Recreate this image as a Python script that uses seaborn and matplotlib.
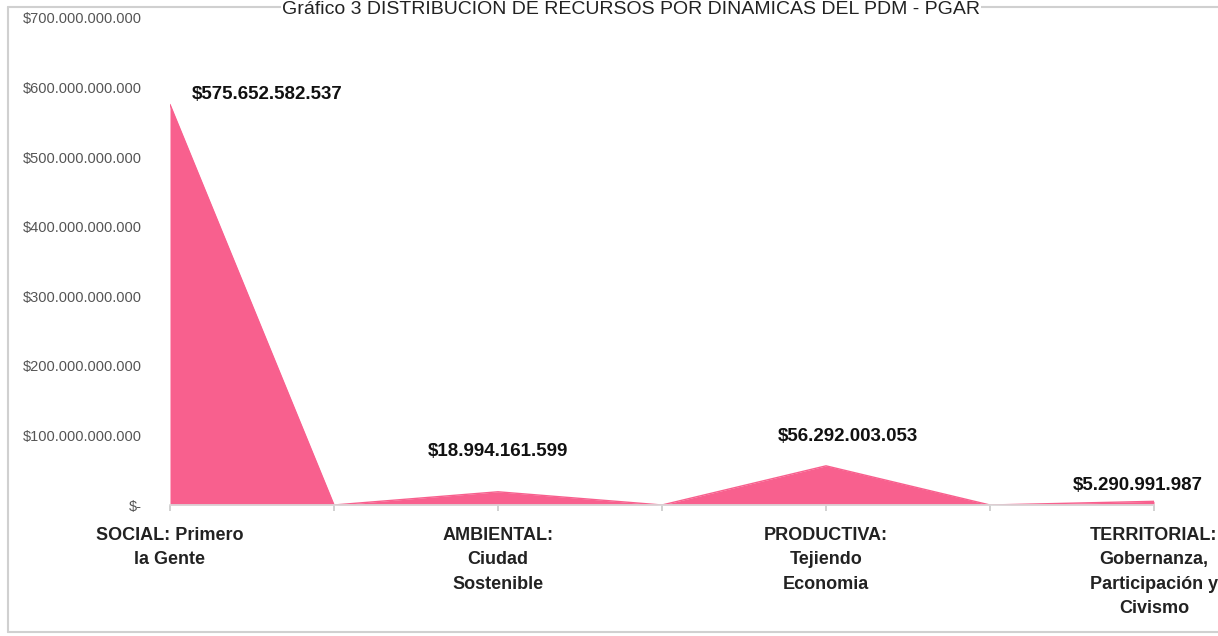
import matplotlib
matplotlib.use("Agg")
import matplotlib.pyplot as plt
from matplotlib.lines import Line2D
import seaborn as sns
import pandas as pd

# Data (every other point is the zero "gap" between dynamics)
categories = ["SOCIAL: Primero\nla Gente", "", "AMBIENTAL:\nCiudad\nSostenible", "",
              "PRODUCTIVA:\nTejiendo\nEconomia", "", "TERRITORIAL:\nGobernanza,\nParticipación y\nCivismo"]
values = [575652582537, 0, 18994161599, 0, 56292003053, 0, 5290991987]
y_ticks = [0, 100e9, 200e9, 300e9, 400e9, 500e9, 600e9, 700e9]

title = "Gráfico 3 DISTRIBUCIÓN DE RECURSOS POR DINÁMICAS DEL PDM - PGAR"

PINK = "#F8608E"
W, H = 1218, 636

def money(v):
    if v == 0:
        return "$-"
    return "$" + f"{v:,.0f}".replace(",", ".")

df = pd.DataFrame({"pos": range(len(values)), "value": values})

sns.set_theme(style="white")
plt.rcParams["font.family"] = ["Liberation Sans Narrow", "Liberation Sans", "DejaVu Sans"]

fig = plt.figure(figsize=(W / 100, H / 100), dpi=100)

# chart frame (left, top and bottom edges; right side runs off the picture)
frame = dict(color="#d0d0d0", linewidth=1.5, transform=fig.transFigure)
fig.lines.append(Line2D([8 / W, 8 / W], [1 - 7 / H, 1 - 632 / H], **frame))
fig.lines.append(Line2D([8 / W, 1], [1 - 7 / H, 1 - 7 / H], **frame))
fig.lines.append(Line2D([8 / W, 1], [1 - 632 / H, 1 - 632 / H], **frame))

ax = fig.add_axes([170 / W, 1 - 505 / H, (1154 - 170) / W, (505 - 18) / H])

sns.lineplot(data=df, x="pos", y="value", color=PINK, linewidth=1, ax=ax)
ax.fill_between(df["pos"], df["value"], 0, color=PINK, linewidth=0)

ax.set_xlim(0, len(values) - 1)
ax.set_ylim(0, 700e9)
ax.set_yticks(y_ticks)
ax.set_yticklabels([money(v) for v in y_ticks], color="#555555", fontsize=10.5)
ax.tick_params(axis="y", length=0, pad=20)

ax.set_xticks(df["pos"])
ax.set_xticklabels(categories, fontsize=13, fontweight="bold", color="#222222",
                   linespacing=1.55, va="top")
ax.tick_params(axis="x", length=4, color="#cccccc", pad=12, direction="out")
ax.xaxis.set_ticks_position("bottom")

for s in ["top", "right", "left"]:
    ax.spines[s].set_visible(False)
ax.spines["bottom"].set_color("#d9d9d9")
ax.set_xlabel("")
ax.set_ylabel("")
ax.grid(False)

# data labels (skip the zero points)
label_offsets = {0: (22, 10, "left"), 2: (0, 40, "center"), 4: (22, 29, "center"), 6: (-16, 16, "center")}
for i, v in enumerate(values):
    if v == 0:
        continue
    dx, dy, ha = label_offsets[i]
    ax.annotate(money(v), (i, v), xytext=(dx, dy), textcoords="offset pixels",
                ha=ha, va="center", fontsize=13.5, fontweight="bold", color="#111111",
                clip_on=False)

fig.text(0.518, 1 - 1 / H, title, ha="center", va="top", fontsize=14,
         color="#222222", family=["Liberation Sans", "DejaVu Sans"],
         bbox=dict(facecolor="white", edgecolor="none", pad=1))

fig.savefig("out.png", dpi=100)
